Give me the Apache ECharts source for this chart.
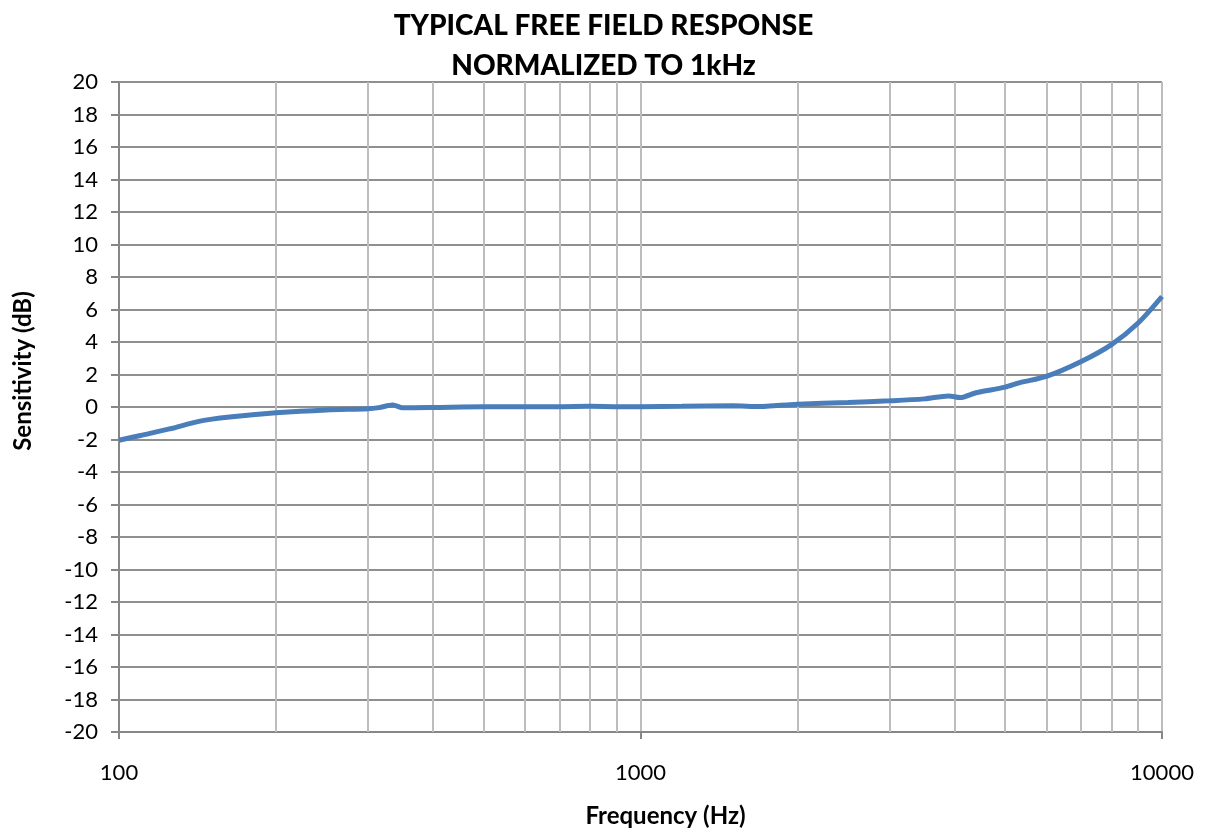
<!DOCTYPE html>
<html>
<head>
<meta charset="utf-8">
<script src="https://cdn.jsdelivr.net/npm/echarts@6.0.0/dist/echarts.min.js"></script>
<style>
html,body{margin:0;padding:0;background:#fff;}
#chart{width:1207px;height:833px;}
</style>
</head>
<body>
<div id="chart"></div>
<script>
const titleLines = ["TYPICAL FREE FIELD RESPONSE", "NORMALIZED TO 1kHz"];
const xAxisName = "Frequency (Hz)";
const yAxisName = "Sensitivity (dB)";
const frequencies = [100,110,125,143,163,200,250,300,315,335,350,400,500,600,700,800,900,1000,1200,1500,1700,1800,2000,2500,3000,3500,3900,4100,4400,5000,5340,6000,7000,8000,9000,10000];
const sensitivity = [-2.05,-1.75,-1.35,-0.87,-0.62,-0.36,-0.18,-0.11,-0.04,0.12,-0.05,-0.03,0.02,0.02,0.02,0.04,0.02,0.02,0.04,0.07,0.03,0.08,0.17,0.28,0.38,0.5,0.68,0.58,0.88,1.22,1.5,1.88,2.8,3.84,5.17,6.8];
const minorGridFreqs = [200,300,400,500,600,700,800,900,2000,3000,4000,5000,6000,7000,8000,9000];

const chart = echarts.init(document.getElementById('chart'));
const font = 'Lato, "Noto Sans", sans-serif';
chart.setOption({
  animation: false,
  backgroundColor: '#ffffff',
  title: {
    text: titleLines.join('\n'),
    left: 'center',
    top: 1,
    textStyle: {fontFamily: font, fontWeight: 900, fontSize: 28, lineHeight: 40, color: '#000'}
  },
  grid: {left: 119, right: 45, top: 82, bottom: 100, containLabel: false},
  xAxis: {
    type: 'log', logBase: 10, min: 100, max: 10000,
    name: xAxisName, nameLocation: 'middle', nameGap: 72,
    nameTextStyle: {fontFamily: font, fontWeight: 'bold', fontSize: 24, color: '#000', padding: [0,0,0,50]},
    axisLine: {show: true, onZero: false, lineStyle: {color: '#878787', width: 2}},
    axisTick: {show: true, length: 7, lineStyle: {color: '#878787', width: 2}},
    axisLabel: {fontFamily: font, fontSize: 22, color: '#000', margin: 30, formatter: v => String(Math.round(v))},
    splitLine: {show: true, lineStyle: {color: '#bdbdbd', width: 2}},
    minorTick: {show: false}, minorSplitLine: {show: false}
  },
  yAxis: {
    type: 'value', min: -20, max: 20, interval: 2,
    name: yAxisName, nameLocation: 'middle', nameGap: 84, nameRotate: 90,
    nameTextStyle: {fontFamily: font, fontWeight: 'bold', fontSize: 24, color: '#000', padding: [0,0,0,72]},
    axisLine: {show: true, onZero: false, lineStyle: {color: '#878787', width: 2}},
    axisTick: {show: true, length: 8, lineStyle: {color: '#878787', width: 2}},
    axisLabel: {fontFamily: font, fontSize: 22, color: '#000', margin: 21},
    splitLine: {show: true, lineStyle: {color: '#8f8f8f', width: 2}}
  },
  series: [
    {
      type: 'line', data: [], z: 1, silent: true, showSymbol: false,
      markLine: {
        silent: true, symbol: ['none','none'], animation: false,
        label: {show: false},
        lineStyle: {type: 'solid', color: '#bdbdbd', width: 2},
        data: minorGridFreqs.map(f => ({xAxis: f}))
      }
    },
    {
      type: 'line', z: 5,
      data: frequencies.map((f, i) => [f, sensitivity[i]]),
      showSymbol: false, smooth: 0.3,
      lineStyle: {color: '#4a7ebb', width: 5},
      itemStyle: {color: '#4a7ebb'}
    }
  ]
});
</script>
</body>
</html>
